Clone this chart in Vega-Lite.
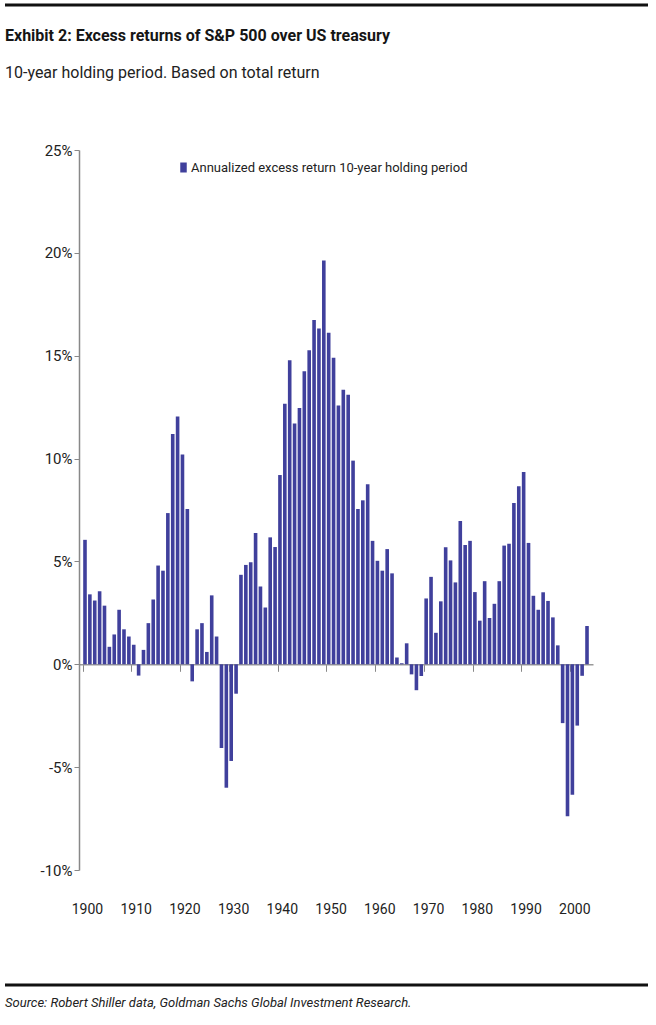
{
  "$schema": "https://vega.github.io/schema/vega-lite/v6.json",
  "background": "white",
  "padding": {"left": 3, "top": 3, "right": 4, "bottom": 0},
  "columns": 1,
  "align": "none",
  "spacing": 21,
  "resolve": {"legend": {"color": "independent"}, "scale": {"color": "independent"}},
  "datasets": {
    "line": [{"v": 0}],
    "returns": [
      {"year": 1900, "excess": 6.05}, {"year": 1901, "excess": 3.4}, {"year": 1902, "excess": 3.1}, {"year": 1903, "excess": 3.55},
      {"year": 1904, "excess": 2.85}, {"year": 1905, "excess": 0.85}, {"year": 1906, "excess": 1.45}, {"year": 1907, "excess": 2.65},
      {"year": 1908, "excess": 1.7}, {"year": 1909, "excess": 1.35}, {"year": 1910, "excess": 0.95}, {"year": 1911, "excess": -0.55},
      {"year": 1912, "excess": 0.7}, {"year": 1913, "excess": 2.0}, {"year": 1914, "excess": 3.15}, {"year": 1915, "excess": 4.8},
      {"year": 1916, "excess": 4.55}, {"year": 1917, "excess": 7.35}, {"year": 1918, "excess": 11.2}, {"year": 1919, "excess": 12.05},
      {"year": 1920, "excess": 10.2}, {"year": 1921, "excess": 7.55}, {"year": 1922, "excess": -0.83}, {"year": 1923, "excess": 1.7},
      {"year": 1924, "excess": 2.0}, {"year": 1925, "excess": 0.6}, {"year": 1926, "excess": 3.35}, {"year": 1927, "excess": 1.35},
      {"year": 1928, "excess": -4.07}, {"year": 1929, "excess": -6.0}, {"year": 1930, "excess": -4.7}, {"year": 1931, "excess": -1.43},
      {"year": 1932, "excess": 4.35}, {"year": 1933, "excess": 4.83}, {"year": 1934, "excess": 4.96}, {"year": 1935, "excess": 6.38},
      {"year": 1936, "excess": 3.78}, {"year": 1937, "excess": 2.76}, {"year": 1938, "excess": 6.17}, {"year": 1939, "excess": 5.7},
      {"year": 1940, "excess": 9.2}, {"year": 1941, "excess": 12.67}, {"year": 1942, "excess": 14.78}, {"year": 1943, "excess": 11.7},
      {"year": 1944, "excess": 12.46}, {"year": 1945, "excess": 14.25}, {"year": 1946, "excess": 15.27}, {"year": 1947, "excess": 16.74},
      {"year": 1948, "excess": 16.32}, {"year": 1949, "excess": 19.63}, {"year": 1950, "excess": 16.12}, {"year": 1951, "excess": 14.9},
      {"year": 1952, "excess": 12.58}, {"year": 1953, "excess": 13.35}, {"year": 1954, "excess": 13.1}, {"year": 1955, "excess": 9.9},
      {"year": 1956, "excess": 7.55}, {"year": 1957, "excess": 7.97}, {"year": 1958, "excess": 8.75}, {"year": 1959, "excess": 6.0},
      {"year": 1960, "excess": 5.03}, {"year": 1961, "excess": 4.55}, {"year": 1962, "excess": 5.6}, {"year": 1963, "excess": 4.42},
      {"year": 1964, "excess": 0.33}, {"year": 1965, "excess": 0.05}, {"year": 1966, "excess": 1.02}, {"year": 1967, "excess": -0.49},
      {"year": 1968, "excess": -1.26}, {"year": 1969, "excess": -0.57}, {"year": 1970, "excess": 3.2}, {"year": 1971, "excess": 4.25},
      {"year": 1972, "excess": 1.53}, {"year": 1973, "excess": 3.06}, {"year": 1974, "excess": 5.69}, {"year": 1975, "excess": 5.05},
      {"year": 1976, "excess": 3.98}, {"year": 1977, "excess": 6.96}, {"year": 1978, "excess": 5.8}, {"year": 1979, "excess": 6.0},
      {"year": 1980, "excess": 3.51}, {"year": 1981, "excess": 2.12}, {"year": 1982, "excess": 4.04}, {"year": 1983, "excess": 2.25},
      {"year": 1984, "excess": 2.94}, {"year": 1985, "excess": 4.04}, {"year": 1986, "excess": 5.77}, {"year": 1987, "excess": 5.86},
      {"year": 1988, "excess": 7.84}, {"year": 1989, "excess": 8.65}, {"year": 1990, "excess": 9.35}, {"year": 1991, "excess": 5.9},
      {"year": 1992, "excess": 3.33}, {"year": 1993, "excess": 2.65}, {"year": 1994, "excess": 3.5}, {"year": 1995, "excess": 3.08},
      {"year": 1996, "excess": 2.28}, {"year": 1997, "excess": 0.92}, {"year": 1998, "excess": -2.86}, {"year": 1999, "excess": -7.39},
      {"year": 2000, "excess": -6.34}, {"year": 2001, "excess": -2.98}, {"year": 2002, "excess": -0.56}, {"year": 2003, "excess": 1.86}
    ]
  },
  "concat": [
    {
      "width": 643,
      "height": 2,
      "data": {"name": "line"},
      "mark": {"type": "rule", "strokeWidth": 3, "color": "#111111"},
      "encoding": {
        "y": {"field": "v", "type": "quantitative", "scale": {"domain": [0, 1]}, "axis": null}
      }
    },
    {
      "width": 643,
      "height": 720,
      "data": {"name": "returns"},
      "title": {
        "text": "Exhibit 2: Excess returns of S&P 500 over US treasury",
        "subtitle": "10-year holding period. Based on total return",
        "anchor": "start",
        "frame": "group",
        "font": "Roboto",
        "fontSize": 16,
        "fontWeight": "bold",
        "color": "#151515",
        "subtitleFont": "Roboto",
        "subtitleFontSize": 16,
        "subtitleColor": "#222222",
        "subtitlePadding": 21,
        "offset": 62
      },
      "mark": {"type": "bar", "color": "#40409c"},
      "encoding": {
        "x": {
          "field": "year",
          "type": "ordinal",
          "scale": {"range": [74, 588], "paddingInner": 0.26, "paddingOuter": 0.86},
          "axis": {
            "title": null,
            "values": [1900, 1910, 1920, 1930, 1940, 1950, 1960, 1970, 1980, 1990, 2000],
            "labelAngle": 0,
            "offset": -205.7,
            "bandPosition": 0,
            "labelOffset": 2.4,
            "tickSize": 7,
            "tickColor": "#888888",
            "tickWidth": 1,
            "domainColor": "#999999",
            "domainWidth": 1.5,
            "labelPadding": 231,
            "labelFont": "Roboto",
            "labelFontSize": 14,
            "labelColor": "#222222"
          }
        },
        "y": {
          "field": "excess",
          "type": "quantitative",
          "scale": {"domain": [-10, 25], "nice": false, "zero": false},
          "axis": {
            "title": null,
            "offset": -74,
            "values": [-10, -5, 0, 5, 10, 15, 20, 25],
            "labelExpr": "datum.value + '%'",
            "grid": false,
            "domainColor": "#888888",
            "domainWidth": 1.5,
            "tickColor": "#888888",
            "tickSize": 5,
            "labelPadding": 2,
            "labelFont": "Roboto",
            "labelFontSize": 15,
            "labelColor": "#222222"
          }
        },
        "color": {
          "datum": "Annualized excess return 10-year holding period",
          "type": "nominal",
          "scale": {"range": ["#40409c"]},
          "legend": {
            "title": null,
            "orient": "none",
            "legendX": 172,
            "legendY": 11,
            "padding": 0,
            "symbolType": "M-0.65,-1H0.65V1H-0.65Z",
            "symbolSize": 100,
            "symbolOpacity": 1,
            "labelOffset": 1,
            "labelFont": "Roboto",
            "labelFontSize": 13,
            "labelColor": "#222222",
            "labelLimit": 400
          }
        }
      }
    },
    {
      "width": 643,
      "height": 47,
      "data": {"name": "line"},
      "title": {
        "text": "Source: Robert Shiller data, Goldman Sachs Global Investment Research.",
        "orient": "bottom",
        "anchor": "start",
        "frame": "group",
        "font": "Roboto",
        "fontSize": 13,
        "fontStyle": "italic",
        "fontWeight": "normal",
        "color": "#222222",
        "offset": 10
      },
      "mark": {"type": "rule", "strokeWidth": 3, "color": "#111111"},
      "encoding": {
        "y": {"field": "v", "type": "quantitative", "scale": {"domain": [0, 1]}, "axis": null}
      }
    }
  ],
  "config": {
    "view": {"stroke": null}
  }
}
